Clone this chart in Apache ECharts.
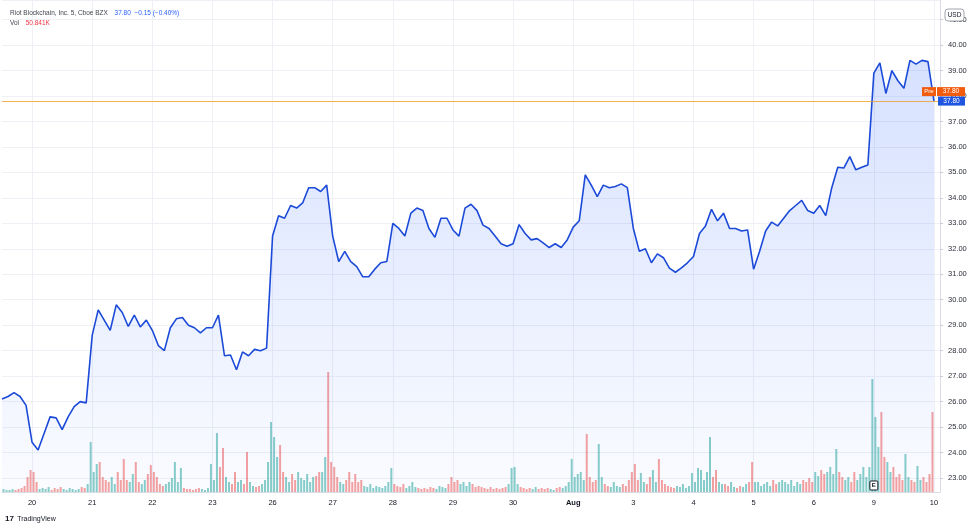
<!DOCTYPE html>
<html><head><meta charset="utf-8">
<script src="https://cdn.jsdelivr.net/npm/echarts@6/dist/echarts.min.js"></script>
<style>html,body{margin:0;padding:0;background:#fff}#c{width:974px;height:529px}</style>
</head><body><div id="c"></div>
<script>
// Day labels along the time axis (Jul 20 .. Aug 10)
const dayLabels = ['20','21','22','23','26','27','28','29','30','Aug','3','4','5','6','9','10'];
const firstDayIndex = 5;      // sample index where first day label sits
const samplesPerDay = 10;     // price samples per trading day

// Price samples (USD)
const price = [
  26.1, 26.2, 26.35, 26.2, 25.85, 24.4, 24.1, 24.75, 25.4, 25.36,
  24.9, 25.4, 25.8, 26.0, 25.95, 28.6, 29.6, 29.2, 28.8, 29.8,
  29.5, 28.95, 29.4, 28.93, 29.2, 28.8, 28.2, 28.0, 28.9, 29.25,
  29.3, 29.0, 28.9, 28.7, 28.9, 28.9, 29.4, 27.8, 27.83, 27.25,
  27.95, 27.8, 28.05, 28.0, 28.1, 32.5, 33.3, 33.2, 33.7, 33.6,
  33.8, 34.4, 34.4, 34.25, 34.5, 32.5, 31.5, 31.9, 31.5, 31.3,
  30.9, 30.9, 31.2, 31.45, 31.5, 33.0, 32.8, 32.5, 33.4, 33.6,
  33.5, 32.8, 32.45, 33.2, 33.2, 32.74, 32.5, 33.6, 33.75, 33.5,
  32.93, 32.8, 32.5, 32.2, 32.1, 32.2, 32.95, 32.6, 32.35, 32.4,
  32.23, 32.05, 32.2, 32.05, 32.35, 32.85, 33.1, 34.9, 34.5, 34.05,
  34.5, 34.4, 34.45, 34.55, 34.4, 32.8, 31.9, 32.0, 31.45, 31.8,
  31.65, 31.24, 31.08, 31.25, 31.45, 31.7, 32.6, 32.9, 33.55, 33.1,
  33.4, 32.8, 32.8, 32.7, 32.74, 31.2, 31.9, 32.7, 33.05, 32.9,
  33.2, 33.5, 33.7, 33.9, 33.5, 33.4, 33.7, 33.3, 34.4, 35.2,
  35.17, 35.62, 35.1, 35.2, 35.29, 38.9, 39.3, 38.1, 39.0, 38.6,
  38.3, 39.4, 39.25, 39.4, 39.35, 37.8, null
];

// Volume samples (two per price sample), relative units
const volume = [
  3,2,2,3,2,3,4,6,15,22,
  20,10,3,4,3,5,2,4,3,5,
  3,2,4,3,2,3,5,4,8,50,
  20,28,30,15,12,10,15,8,20,12,
  33,12,10,18,30,10,8,12,18,27,
  20,15,8,6,8,10,14,30,10,24,
  4,3,3,2,3,4,3,2,4,28,
  12,59,25,44,15,10,8,20,10,12,
  8,40,10,6,5,6,8,12,30,70,
  55,35,47,20,15,10,18,12,20,14,
  12,18,10,15,16,20,20,35,120,30,
  25,15,10,8,12,20,10,18,10,12,
  6,5,8,4,6,5,4,6,10,24,
  8,6,5,8,4,6,10,5,4,3,
  4,3,5,4,3,6,5,4,8,15,
  10,12,8,10,6,10,8,5,6,5,
  4,3,5,3,4,3,4,5,8,24,
  25,8,5,4,3,4,3,5,3,4,
  3,4,3,2,4,5,4,6,10,33,
  15,18,20,12,58,15,10,12,48,15,
  8,6,5,10,6,5,8,6,12,20,
  28,12,19,10,8,15,22,10,33,12,
  8,6,5,4,6,5,8,4,6,19,
  10,24,22,12,20,55,15,22,10,8,
  8,6,10,5,4,6,5,8,10,30,
  10,10,6,8,10,6,12,8,10,12,
  10,8,12,6,10,8,12,10,14,10,
  20,16,22,18,20,25,18,43,20,15,
  12,15,10,20,12,18,25,15,25,113,
  75,45,80,35,30,20,25,15,18,12,
  38,15,12,10,26,12,15,10,18,80,
  0,0
];

const lastPrice = 37.80;
const headerName = 'Riot Blockchain, Inc. 5, Cboe BZX';
const headerQuote = '37.80  −0.15 (−0.40%)';
const headerVol = '50.841K';
const earningsDay = '9';

// build categories
const cats = price.map((v, i) => {
  const k = i - firstDayIndex;
  return (k >= 0 && k % samplesPerDay === 0 && dayLabels[k / samplesPerDay]) ? dayLabels[k / samplesPerDay] : '';
});
const volCats = volume.map((v, i) => 'v' + i);
const isDayTick = (idx) => cats[idx] !== '';

const RED = 'rgba(239,83,80,0.55)', GREEN = 'rgba(38,166,154,0.55)';
const volData = volume.map((v, k) => {
  const i = Math.floor(k / 2);
  const a = price[i], b = price[i + 1];
  const up = (b == null || a == null) ? true : b >= a;
  return { value: v, itemStyle: { color: up ? GREEN : RED } };
});

const FONT = '"Liberation Sans", "DejaVu Sans", Arial, sans-serif';
const ORANGE_LINE = '#f29a1e';
const GRID = { left: 2, right: 34, top: 0, bottom: 37 };
const chart = echarts.init(document.getElementById('c'), null, { renderer: 'canvas' });
chart.setOption({
  animation: false,
  backgroundColor: '#ffffff',
  textStyle: { fontFamily: FONT },
  grid: Object.assign({ containLabel: false }, GRID),
  xAxis: [{
    type: 'category', data: cats, boundaryGap: false,
    axisLine: { show: true, lineStyle: { color: '#d9dce3' } },
    axisTick: { show: false },
    axisLabel: {
      interval: (idx) => isDayTick(idx), margin: 7, fontSize: 7.5, color: '#131722',
      formatter: (v) => v === 'Aug' ? '{b|Aug}' : v,
      rich: { b: { fontWeight: 'bold', fontSize: 7.5, color: '#131722' } }
    },
    splitLine: { show: true, interval: (idx) => isDayTick(idx), lineStyle: { color: '#eef0f5', width: 1 } }
  }, {
    type: 'category', data: volCats, boundaryGap: true, show: false, gridIndex: 0
  }],
  yAxis: [{
    type: 'value', position: 'right', min: 22.45, max: 41.77,
    splitNumber: 19, minInterval: 1, maxInterval: 1, scale: true,
    axisLine: { show: true, lineStyle: { color: '#d9dce3' } },
    axisTick: { show: true, length: 3, lineStyle: { color: '#c8ccd6' } },
    axisLabel: { showMinLabel: false, showMaxLabel: false, margin: 8, fontSize: 7.5, color: '#2a2e39',
      formatter: (v) => v.toFixed(2) },
    splitLine: { show: true, lineStyle: { color: '#eef0f5', width: 1 } }
  }, {
    type: 'value', min: 0, max: 492, show: false, splitLine: { show: false }
  }],
  series: [{
    type: 'bar', xAxisIndex: 1, yAxisIndex: 1, data: volData, barWidth: 2, barGap: '0%',
    silent: true, z: 1
  }, {
    type: 'line', data: price, xAxisIndex: 0, yAxisIndex: 0, showSymbol: false, symbol: 'none',
    lineStyle: { color: '#1c4ad8', width: 1.6 }, z: 3,
    areaStyle: {
      origin: 'start',
      color: new echarts.graphic.LinearGradient(0, 0, 0, 1, [
        { offset: 0, color: 'rgba(41,98,255,0.27)' },
        { offset: 1, color: 'rgba(41,98,255,0.03)' }
      ])
    }
  }]
});

// overlay labels positioned through the chart's own scales
const yLast = chart.convertToPixel({ yAxisIndex: 0 }, lastPrice);
const axisX = 974 - GRID.right;
const eIdx = firstDayIndex + dayLabels.indexOf(earningsDay) * samplesPerDay;
const eX = chart.convertToPixel({ xAxisIndex: 0 }, eIdx);
const bottomY = chart.convertToPixel({ yAxisIndex: 1 }, 0);
chart.setOption({
  graphic: [
    // premarket price line
    { type: 'rect', shape: { x: GRID.left, y: Math.round(yLast), width: axisX - GRID.left, height: 1 }, style: { fill: ORANGE_LINE, opacity: 0.75 }, z: 50, silent: true },
    // header
    { type: 'text', x: 10, y: 13, style: { text: '{n|' + headerName + '}  {q|' + headerQuote + '}', verticalAlign: 'middle', rich: {
        n: { fontSize: 6.5, fill: '#434651', fontFamily: FONT },
        q: { fontSize: 6.5, fill: '#2962ff', fontFamily: FONT } } }, z: 101 },
    { type: 'text', x: 10, y: 23, style: { text: '{n|Vol}  {r|' + headerVol + '}', verticalAlign: 'middle', rich: {
        n: { fontSize: 6.5, fill: '#434651', fontFamily: FONT },
        r: { fontSize: 6.5, fill: '#f23645', fontFamily: FONT } } }, z: 101 },
    // USD box
    { type: 'rect', shape: { x: 945, y: 9, width: 19, height: 12, r: 3 }, style: { fill: '#fff', stroke: '#8a8e99', lineWidth: 0.8 }, z: 100 },
    { type: 'text', x: 954.5, y: 15, style: { text: 'USD', fontSize: 6.5, fill: '#131722', align: 'center', verticalAlign: 'middle', fontFamily: FONT }, z: 101 },
    // Pre / premarket tag
    { type: 'rect', shape: { x: axisX - 18, y: yLast - 14, width: 14, height: 9 }, style: { fill: '#f25c0f' }, z: 100 },
    { type: 'text', x: axisX - 11, y: yLast - 9.5, style: { text: 'Pre', fontSize: 6, fill: '#fff', align: 'center', verticalAlign: 'middle', fontFamily: FONT }, z: 101 },
    { type: 'rect', shape: { x: axisX - 3, y: yLast - 14, width: 28, height: 9 }, style: { fill: '#f25c0f' }, z: 100 },
    { type: 'text', x: axisX + 11, y: yLast - 9.5, style: { text: lastPrice.toFixed(2), fontSize: 6.5, fill: '#fff', align: 'center', verticalAlign: 'middle', fontFamily: FONT }, z: 101 },
    // last price tag
    { type: 'rect', shape: { x: axisX - 2, y: yLast - 4.5, width: 27, height: 9 }, style: { fill: '#1f56e0' }, z: 100 },
    { type: 'text', x: axisX + 11.5, y: yLast, style: { text: lastPrice.toFixed(2), fontSize: 6.5, fill: '#fff', align: 'center', verticalAlign: 'middle', fontFamily: FONT }, z: 101 },
    // Earnings marker
    { type: 'rect', shape: { x: eX - 4, y: bottomY - 11, width: 8, height: 9, r: 1 }, style: { fill: '#fff', stroke: '#131722', lineWidth: 1 }, z: 100 },
    { type: 'text', x: eX, y: bottomY - 6.5, style: { text: 'E', fontSize: 6, fontWeight: 'bold', fill: '#131722', align: 'center', verticalAlign: 'middle', fontFamily: FONT }, z: 101 },
    // TradingView logo text
    { type: 'text', x: 5, y: 519, style: { text: '{l|17} {t|TradingView}', verticalAlign: 'middle', rich: {
        l: { fontSize: 8, fontWeight: 'bold', fill: '#131722', fontFamily: FONT },
        t: { fontSize: 7, fill: '#131722', fontFamily: FONT } } }, z: 101 }
  ]
});
</script>
</body></html>
